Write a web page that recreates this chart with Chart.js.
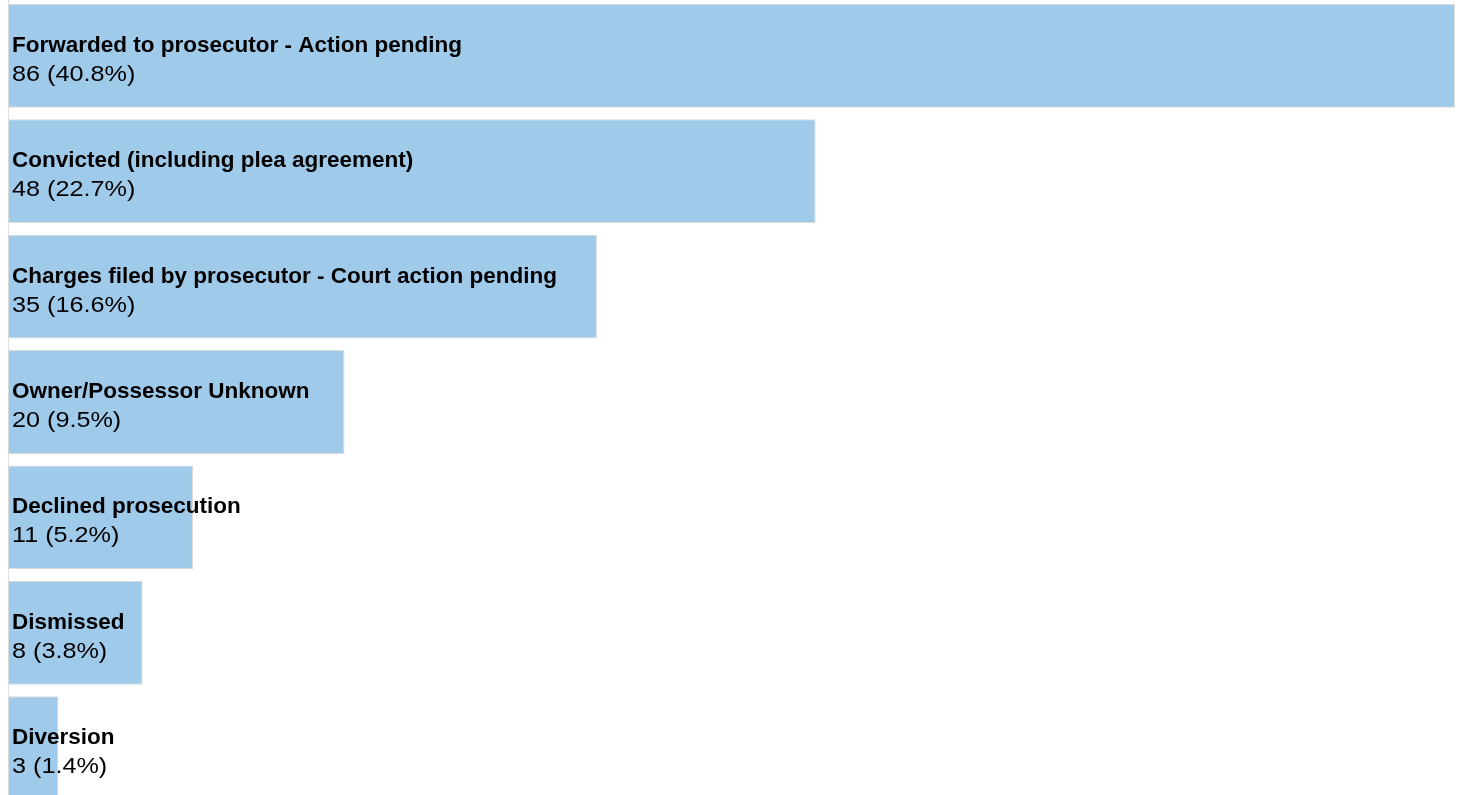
<!DOCTYPE html>
<html>
<head>
<meta charset="utf-8">
<script src="https://cdn.jsdelivr.net/npm/chart.js@4"></script>
<style>
  html, body { margin: 0; padding: 0; background: #fff; overflow: hidden; }
  #wrap { position: absolute; left: 0; top: -2px; width: 1461px; height: 808px; }
</style>
</head>
<body>
<div id="wrap"><canvas id="myChart"></canvas></div>
<script>
const categories = [
  'Forwarded to prosecutor - Action pending',
  'Convicted (including plea agreement)',
  'Charges filed by prosecutor - Court action pending',
  'Owner/Possessor Unknown',
  'Declined prosecution',
  'Dismissed',
  'Diversion'
]
const counts = [86, 48, 35, 20, 11, 8, 3]
const percents = ['40.8%', '22.7%', '16.6%', '9.5%', '5.2%', '3.8%', '1.4%']

// draws the two-line label inside each bar
const barLabels = {
  id: 'barLabels',
  afterDatasetsDraw(chart) {
    const ctx = chart.ctx
    const meta = chart.getDatasetMeta(0)
    ctx.save()
    ctx.fillStyle = '#000'
    ctx.textBaseline = 'alphabetic'
    ctx.textAlign = 'left'
    meta.data.forEach((bar, i) => {
      const x = bar.base + 4
      ctx.font = 'bold 22.5px "Liberation Sans", Arial'
      ctx.fillText(categories[i], x, bar.y - 4)
      // digits in the original font run wider, so stretch this line a bit
      ctx.save()
      ctx.translate(x, bar.y + 25)
      ctx.scale(1.12, 1)
      ctx.font = '22.5px "Liberation Sans", Arial'
      ctx.fillText(counts[i] + ' (' + percents[i] + ')', 0, 0)
      ctx.restore()
    })
    ctx.restore()
  }
}

new Chart(document.getElementById('myChart'), {
  type: 'bar',
  data: {
    labels: categories,
    datasets: [{
      data: counts,
      backgroundColor: '#a0cae9',
      borderColor: '#d9d9d9',
      borderWidth: 1,
      borderSkipped: false,
      barPercentage: 0.9,
      categoryPercentage: 1
    }]
  },
  options: {
    indexAxis: 'y',
    responsive: true,
    maintainAspectRatio: false,
    animation: false,
    layout: { padding: { left: 8, right: 6, top: 0, bottom: 0 } },
    plugins: { legend: { display: false }, tooltip: { enabled: false } },
    scales: {
      x: { display: false, min: 0, max: 86 },
      y: {
        ticks: { display: false },
        grid: { display: false, drawTicks: false },
        border: { display: true, color: '#e0e0e0', width: 1 }
      }
    }
  },
  plugins: [barLabels]
})
</script>
</body>
</html>
